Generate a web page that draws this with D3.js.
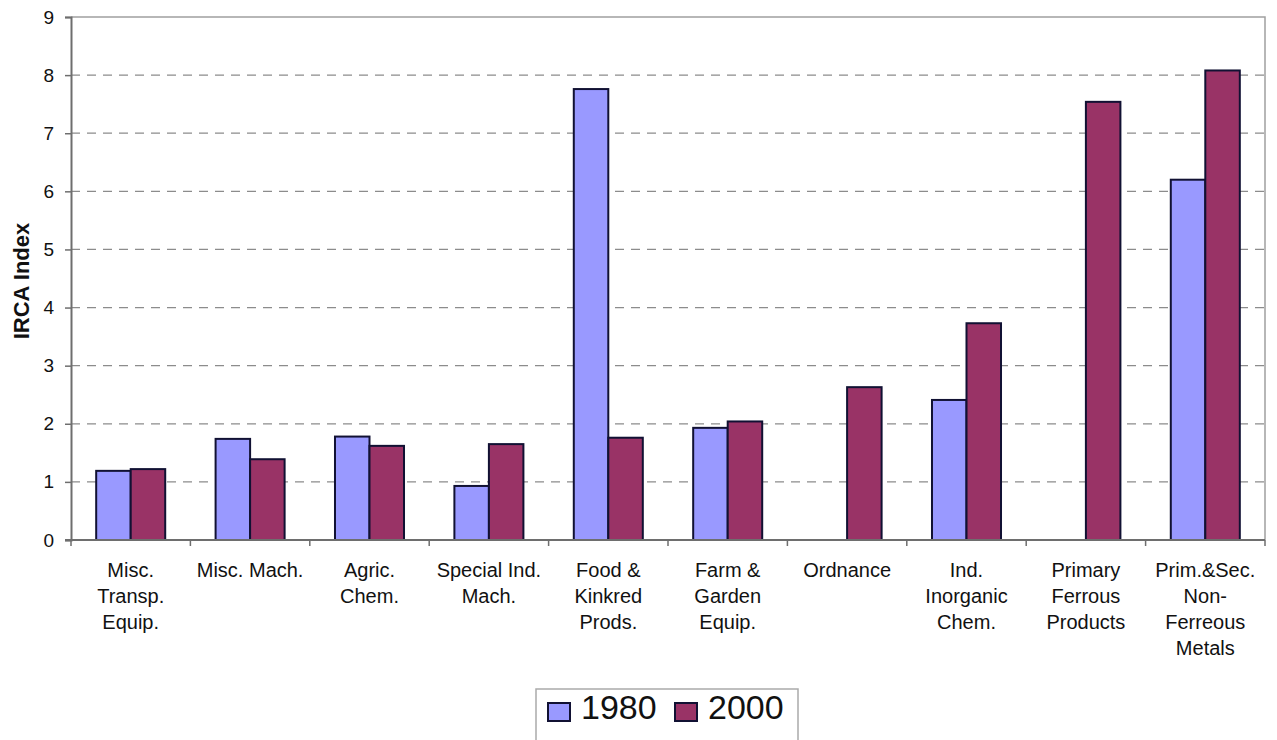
<!DOCTYPE html>
<html>
<head>
<meta charset="utf-8">
<script src="https://cdn.jsdelivr.net/npm/d3@7"></script>
<style>
  body { margin: 0; background: #fff; }
  text { font-family: Arial, "Liberation Sans", Helvetica, sans-serif; }
</style>
</head>
<body>
<script>
// data
const categories = [
  "Misc.\nTransp.\nEquip.", "Misc. Mach.", "Agric.\nChem.", "Special Ind.\nMach.",
  "Food &\nKinkred\nProds.", "Farm &\nGarden\nEquip.", "Ordnance",
  "Ind.\nInorganic\nChem.", "Primary\nFerrous\nProducts", "Prim.&Sec.\nNon-\nFerreous\nMetals"
]
const seriesNames = ["1980", "2000"]
const values1980 = [1.19, 1.74, 1.78, 0.93, 7.76, 1.93, 0, 2.41, 0, 6.2]
const values2000 = [1.22, 1.39, 1.62, 1.65, 1.76, 2.04, 2.63, 3.73, 7.54, 8.08]
const yTicks = [0, 1, 2, 3, 4, 5, 6, 7, 8, 9]
const colors = {"1980": "#9999ff", "2000": "#993366"}

function setattrs(shape, dict) {
    for (let [prop, val] of Object.entries(dict)) {
        shape.attr(prop, val)
    }
}

const W = 1277, H = 740
const mLeft = 71, mRight = 1265, mTop = 17, mBottom = 540

const svg = d3.select("body").append("svg")
setattrs(svg, {"width": W, "height": H})

const x0 = d3.scaleBand().domain(categories).range([mLeft, mRight])
const x1 = d3.scaleBand().domain(seriesNames).range([0, x0.bandwidth()]).paddingOuter(0.73)
const y = d3.scaleLinear().domain([0, 9]).range([mBottom, mTop])

// grid
svg.append("g").selectAll("line").data(yTicks.filter(d => d > 0 && d < 9)).join("line")
    .attr("x1", mLeft).attr("x2", mRight)
    .attr("y1", d => y(d)).attr("y2", d => y(d))
    .attr("stroke", "#8c8c8c").attr("stroke-width", 1.2)
    .attr("stroke-dasharray", "9,7")

// plot border top/right
svg.append("path")
    .attr("d", `M${mLeft},${mTop}H${mRight}V${mBottom}`)
    .attr("fill", "none").attr("stroke", "#a0a0a0").attr("stroke-width", 1.5)

// bars
const rows = categories.map((c, i) => ({cat: c, vals: [
    {key: "1980", v: values1980[i]}, {key: "2000", v: values2000[i]}]}))

const groups = svg.append("g").selectAll("g").data(rows).join("g")
    .attr("transform", d => `translate(${x0(d.cat)},0)`)

groups.selectAll("rect").data(d => d.vals.filter(e => e.v > 0)).join("rect")
    .attr("x", d => x1(d.key))
    .attr("width", x1.bandwidth())
    .attr("y", d => y(d.v))
    .attr("height", d => y(0) - y(d.v))
    .attr("fill", d => colors[d.key])
    .attr("stroke", "#111133").attr("stroke-width", 2)

// y axis
const yAxis = d3.axisLeft(y).tickValues(yTicks).tickSize(6).tickPadding(11)
const ya = svg.append("g").attr("transform", `translate(${mLeft},0)`).call(yAxis)
ya.select(".domain").attr("stroke", "#6e6e6e").attr("stroke-width", 2)
ya.selectAll(".tick line").attr("stroke", "#6e6e6e").attr("stroke-width", 1.5)
ya.selectAll(".tick text").attr("font-size", 19).attr("fill", "#111")
    .attr("font-family", "Arial, 'Liberation Sans', sans-serif")

// x axis with boundary ticks
svg.append("line")
    .attr("x1", mLeft - 6).attr("x2", mRight).attr("y1", mBottom).attr("y2", mBottom)
    .attr("stroke", "#6e6e6e").attr("stroke-width", 2)
svg.append("g").selectAll("line").data(categories.concat([null])).join("line")
    .attr("x1", (d, i) => mLeft + i * x0.step()).attr("x2", (d, i) => mLeft + i * x0.step())
    .attr("y1", mBottom).attr("y2", mBottom + 6)
    .attr("stroke", "#6e6e6e").attr("stroke-width", 1.5)

// category labels
const labels = svg.append("g").selectAll("text").data(categories).join("text")
    .attr("x", d => x0(d) + x0.bandwidth() / 2)
    .attr("y", 577)
    .attr("text-anchor", "middle")
    .attr("font-size", 20)
    .attr("fill", "#111")
labels.selectAll("tspan").data(d => d.split("\n")).join("tspan")
    .attr("x", function() { return d3.select(this.parentNode).attr("x") })
    .attr("dy", (d, i) => i === 0 ? 0 : 26)
    .text(d => d)

// y title
svg.append("text")
    .attr("transform", "translate(29,281) rotate(-90)")
    .attr("text-anchor", "middle")
    .attr("font-size", 22).attr("font-weight", "bold")
    .attr("fill", "#111")
    .text("IRCA Index")

// legend
const lg = svg.append("g")
lg.append("rect")
    .attr("x", 536).attr("y", 689).attr("width", 262).attr("height", 60)
    .attr("fill", "#fff").attr("stroke", "#aaaaaa").attr("stroke-width", 1.5)
const legendX = [548, 675]
seriesNames.forEach((s, i) => {
    lg.append("rect")
        .attr("x", legendX[i]).attr("y", 703).attr("width", 22).attr("height", 18)
        .attr("fill", colors[s]).attr("stroke", "#111133").attr("stroke-width", 2)
    lg.append("text")
        .attr("x", legendX[i] + 33).attr("y", 719)
        .attr("font-size", 34).attr("fill", "#111")
        .text(s)
})
</script>
</body>
</html>
